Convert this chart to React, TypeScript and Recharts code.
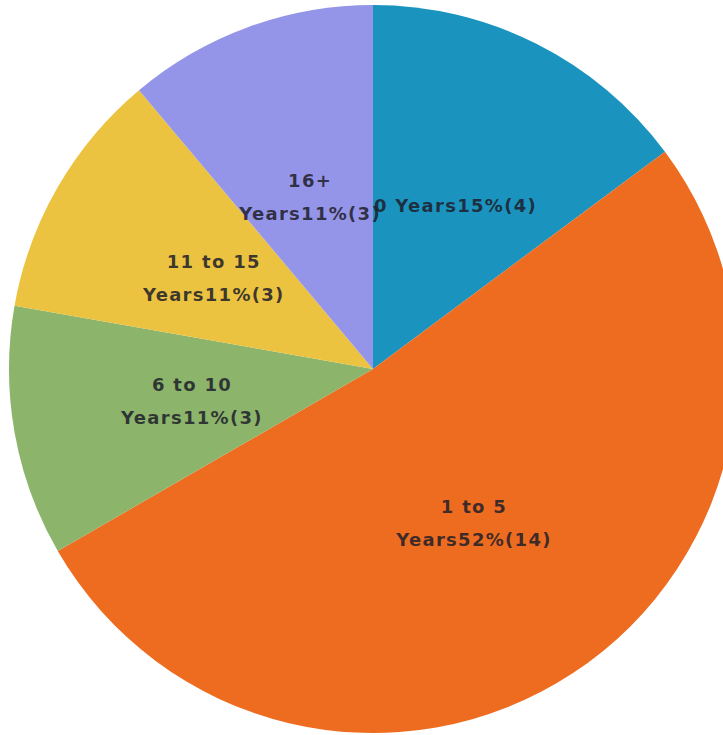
import React from "react";
import { PieChart, Pie, Cell } from "recharts";

const categories = ["0 Years", "1 to 5 Years", "6 to 10 Years", "11 to 15 Years", "16+ Years"];
const counts = [4, 14, 3, 3, 3];
const percents = ["15%", "52%", "11%", "11%", "11%"];
const labelLines: string[][] = [
  ["0 Years15%(4)"],
  ["1 to 5", "Years52%(14)"],
  ["6 to 10", "Years11%(3)"],
  ["11 to 15", "Years11%(3)"],
  ["16+", "Years11%(3)"],
];
const colors = ["#1b93bf", "#ee6c1f", "#8cb46b", "#ebc340", "#9494e8"];

const data = categories.map((name, i) => ({
  name,
  value: counts[i],
  pct: percents[i],
  lines: labelLines[i],
}));

const RAD = Math.PI / 180;

const renderLabel = (props: any) => {
  const { cx, cy, midAngle, outerRadius, index } = props;
  const r = outerRadius * 0.505;
  const x = cx + r * Math.cos(-midAngle * RAD);
  const y = cy + r * Math.sin(-midAngle * RAD);
  const lines = data[index].lines;
  const gap = 33;
  const start = y - ((lines.length - 1) * gap) / 2;
  return (
    <text
      x={x}
      y={start}
      textAnchor="middle"
      dominantBaseline="central"
      fontFamily="'DejaVu Sans', sans-serif"
      fontWeight="bold"
      fontSize={18}
      letterSpacing={1.3}
      fill="#1e1e2a"
      fillOpacity={0.85}
    >
      {lines.map((l, i) => (
        <tspan key={i} x={x} dy={i === 0 ? 0 : gap}>
          {l}
        </tspan>
      ))}
    </text>
  );
};

export default function App() {
  return (
    <div style={{ position: "absolute", left: 0, top: 0, width: 723, height: 735, background: "#ffffff" }}>
      <PieChart width={723} height={735} margin={{ top: 0, right: 0, bottom: 0, left: 0 }}>
        <Pie
          data={data}
          dataKey="value"
          nameKey="name"
          cx={373}
          cy={369}
          outerRadius={364}
          startAngle={90}
          endAngle={-270}
          stroke="none"
          label={renderLabel}
          labelLine={false}
          isAnimationActive={false}
        >
          {data.map((d, i) => (
            <Cell key={d.name} fill={colors[i]} />
          ))}
        </Pie>
      </PieChart>
    </div>
  );
}
